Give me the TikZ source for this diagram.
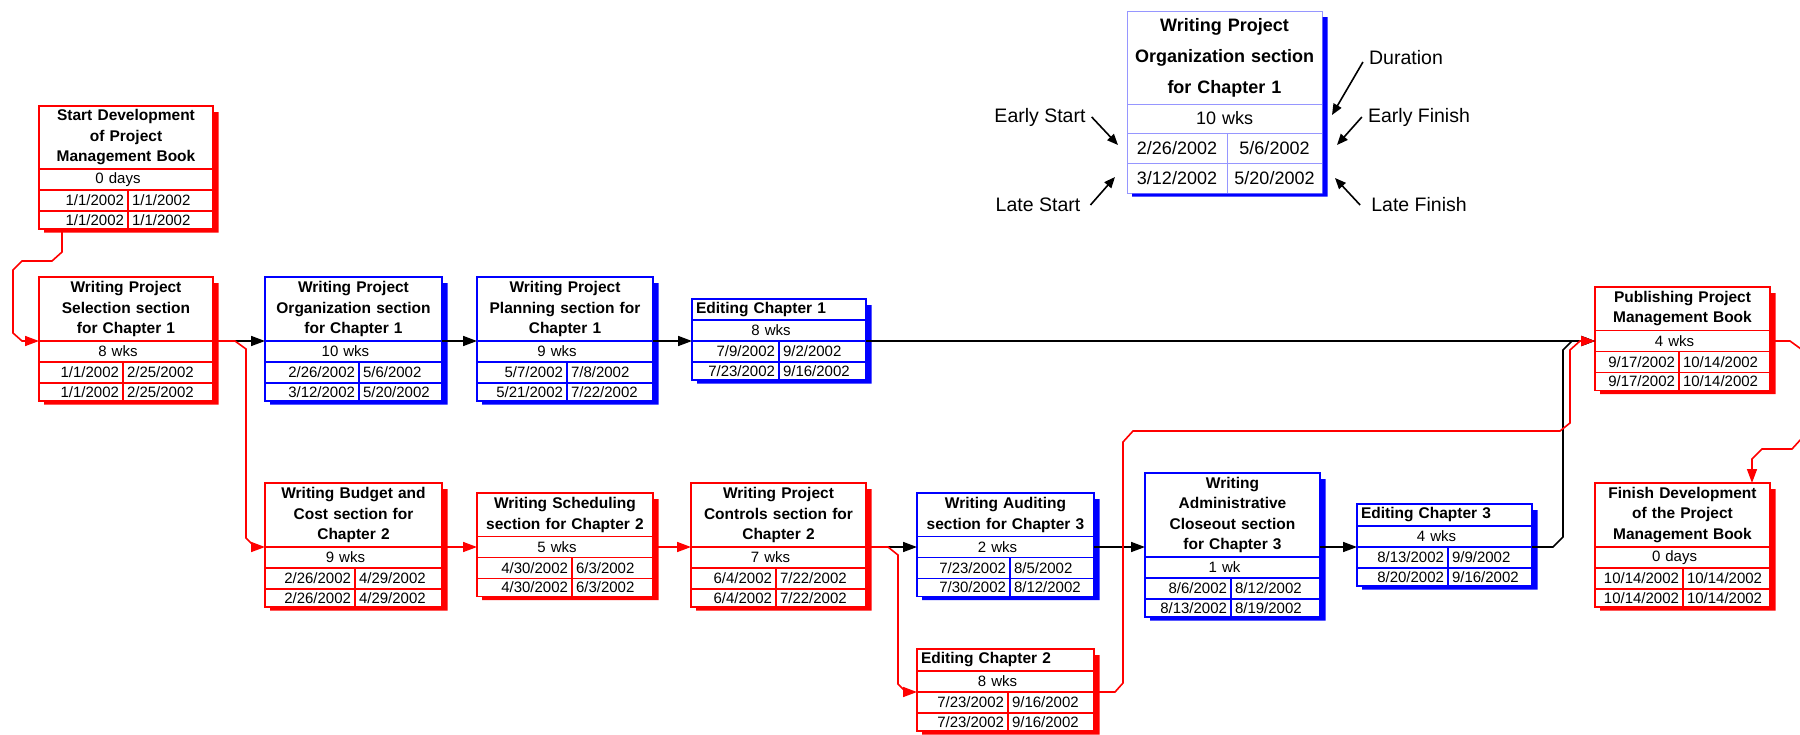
\documentclass[tikz,border=0pt]{standalone}
\usepackage{fontspec}
\setmainfont{Liberation Sans}
\usetikzlibrary{arrows.meta}

\definecolor{keyblue}{RGB}{150,150,255}

\newcommand{\pertbodyfont}{\fontsize{15}{20.5}\selectfont}
\newcommand{\perttitlefont}{\fontsize{15.5}{20.5}\selectfont\bfseries}
\newcommand{\pertkeyfont}{\fontsize{18}{31}\selectfont}
\newcommand{\pertkeytitlefont}{\fontsize{18}{31}\selectfont\bfseries}
\newcommand{\pertlabelfont}{\fontsize{19.5}{24}\selectfont}
\newcommand{\pertleft}[1]{\makebox[\hsize][l]{#1}}

\tikzset{
  cell/.style={fill=white, inner sep=0pt, outer sep=0pt, anchor=north west},
  title row/.style={font=\perttitlefont, align=center},
  dur row/.style={font=\pertbodyfont, align=center, minimum height=21pt,
    execute at end node={\kern16pt}},
  early row/.style={font=\pertbodyfont, minimum height=21pt},
  late row/.style={font=\pertbodyfont, minimum height=18pt},
  left date/.style={align=right},
  right date/.style={align=left},
  redbox/.style={cell, draw=red, line width=1.6pt},
  bluebox/.style={cell, draw=blue, line width=1.6pt},
  keybox/.style={cell, draw=keyblue, line width=0.9pt,
    title row/.style={font=\pertkeytitlefont, align=center},
    dur row/.style={font=\pertkeyfont, align=center, minimum height=29pt},
    early row/.style={font=\pertkeyfont, minimum height=30pt},
    late row/.style={font=\pertkeyfont, minimum height=30pt},
    left date/.style={align=center},
    right date/.style={align=center}},
  redbox shadow/.style={fill=red},
  bluebox shadow/.style={fill=blue},
  keybox shadow/.style={fill=blue},
  redline/.style={draw=red, line width=1.6pt},
  blackline/.style={draw=black, line width=1.6pt},
  linkarrow/.style={-{Triangle[length=14pt,width=10pt]}},
  keylabel/.style={font=\pertlabelfont, inner sep=0pt},
  keyarrow/.style={line width=1.6pt, -{Triangle[length=11pt,width=9pt]}}
}

% two rows of dates: name, style, early start, early finish, late start, late finish
\newcommand{\pertdates}[6]{%
  \node[#2, early row, left date, minimum width=\pertDW pt, text width=\pertLW pt] (#1-es) at (#1-d.south west) {#3};
  \node[#2, early row, right date, minimum width=\pertRMW pt, text width=\pertRW pt] (#1-ef) at (#1-es.north east) {#4};
  \node[#2, late row, left date, minimum width=\pertDW pt, text width=\pertLW pt] (#1-ls) at (#1-es.south west) {#5};
  \node[#2, late row, right date, minimum width=\pertRMW pt, text width=\pertRW pt] (#1-lf) at (#1-ls.north east) {#6};
}

% name, style, top left, width, title height, divider, title, duration, dates
\newcommand{\pertbox}[9]{%
  \pgfmathsetmacro\pertTW{#4-8}%
  \pgfmathsetmacro\pertDW{#6}%
  \pgfmathsetmacro\pertLW{#6-8}%
  \pgfmathsetmacro\pertRMW{#4-#6}%
  \pgfmathsetmacro\pertRW{#4-#6-8}%
  \node[#2, title row, minimum width=#4pt, minimum height=#5pt, text width=\pertTW pt] (#1-t) at (#3) {#7};
  \node[#2, dur row, minimum width=#4pt, text width=\pertTW pt] (#1-d) at (#1-t.south west) {#8};
  \pertdates{#1}{#2}#9
  \fill[#2 shadow] ([shift={(0.5,6)}]#1-t.north east) rectangle ([shift={(5.5,3.5)}]#1-lf.south east)
    ([shift={(5,0.5)}]#1-ls.south west) rectangle ([shift={(5.5,3.5)}]#1-lf.south east);
}

\begin{document}
\begin{tikzpicture}[x=1pt,y=-1pt]
  \useasboundingbox (0,0) rectangle (1800,734);
  \clip (0,0) rectangle (1800,734);

  % Legend box
  \pertbox{key}{keybox}{1127,11}{195}{93}{100}{Writing Project\\ Organization section\\ for Chapter 1}{10 wks}{{2/26/2002}{5/6/2002}{3/12/2002}{5/20/2002}}

  % Legend labels
  \node[keylabel] (es-label) at (1040,117) {Early Start};
  \node[keylabel] (ls-label) at (1038,205) {Late Start};
  \node[keylabel] (dur-label) at (1406,58) {Duration};
  \node[keylabel] (ef-label) at (1419,117) {Early Finish};
  \node[keylabel] (lf-label) at (1419,205) {Late Finish};
  \coordinate (es-tip) at (1118,145);
  \coordinate (ls-tip) at (1115,177);
  \coordinate (dur-tip) at (1332,115);
  \coordinate (ef-tip) at (1337,145);
  \coordinate (lf-tip) at (1335,178);
  \draw[keyarrow] ([xshift=6pt]es-label.east) -- (es-tip);
  \draw[keyarrow] ([xshift=10pt]ls-label.east) -- (ls-tip);
  \draw[keyarrow] ([xshift=-6pt,yshift=-4pt]dur-label.west) -- (dur-tip);
  \draw[keyarrow] ([xshift=-6pt]ef-label.west) -- (ef-tip);
  \draw[keyarrow] ([xshift=-11pt]lf-label.west) -- (lf-tip);

  % Tasks, first row
  \pertbox{start}{redbox}{39,106}{174}{63}{89}{Start Development\\ of Project\\ Management Book}{0 days}{{1/1/2002}{1/1/2002}{1/1/2002}{1/1/2002}}
  \pertbox{sel}{redbox}{39,277}{174}{64}{84}{Writing Project\\ Selection section\\ for Chapter 1}{8 wks}{{1/1/2002}{2/25/2002}{1/1/2002}{2/25/2002}}
  \pertbox{org}{bluebox}{265,277}{177}{64}{94}{Writing Project\\ Organization section\\ for Chapter 1}{10 wks}{{2/26/2002}{5/6/2002}{3/12/2002}{5/20/2002}}
  \pertbox{plan}{bluebox}{477,277}{176}{64}{90}{Writing Project\\ Planning section for\\ Chapter 1}{9 wks}{{5/7/2002}{7/8/2002}{5/21/2002}{7/22/2002}}
  \pertbox{ed1}{bluebox}{692,299}{174}{21}{87}{\pertleft{Editing Chapter 1}}{8 wks}{{7/9/2002}{9/2/2002}{7/23/2002}{9/16/2002}}
  \pertbox{pub}{redbox}{1595,287}{175}{43.5}{84}{Publishing Project\\ Management Book}{4 wks}{{9/17/2002}{10/14/2002}{9/17/2002}{10/14/2002}}

  % Tasks, second row
  \pertbox{bud}{redbox}{265,483}{177}{64}{90}{Writing Budget and\\ Cost section for\\ Chapter 2}{9 wks}{{2/26/2002}{4/29/2002}{2/26/2002}{4/29/2002}}
  \pertbox{sch}{redbox}{477,493}{176}{43.5}{95}{Writing Scheduling\\ section for Chapter 2}{5 wks}{{4/30/2002}{6/3/2002}{4/30/2002}{6/3/2002}}
  \pertbox{ctl}{redbox}{691,483}{175}{64}{85}{Writing Project\\ Controls section for\\ Chapter 2}{7 wks}{{6/4/2002}{7/22/2002}{6/4/2002}{7/22/2002}}
  \pertbox{aud}{bluebox}{917,493}{177}{43.5}{93}{Writing Auditing\\ section for Chapter 3}{2 wks}{{7/23/2002}{8/5/2002}{7/30/2002}{8/12/2002}}
  \pertbox{ed2}{redbox}{917,649}{177}{22}{91}{\pertleft{Editing Chapter 2}}{8 wks}{{7/23/2002}{9/16/2002}{7/23/2002}{9/16/2002}}
  \pertbox{adm}{bluebox}{1145,473}{175}{84}{86}{Writing\\ Administrative\\ Closeout section\\ for Chapter 3}{1 wk}{{8/6/2002}{8/12/2002}{8/13/2002}{8/19/2002}}
  \pertbox{ed3}{bluebox}{1357,504}{175}{22}{91}{\pertleft{Editing Chapter 3}}{4 wks}{{8/13/2002}{9/9/2002}{8/20/2002}{9/16/2002}}
  \pertbox{fin}{redbox}{1595,483}{175}{64}{88}{Finish Development\\ of the Project\\ Management Book}{0 days}{{10/14/2002}{10/14/2002}{10/14/2002}{10/14/2002}}

  % Links off the critical path
  \draw[blackline, linkarrow] (sel-t.south east) -- (org-t.south west);
  \draw[blackline, linkarrow] (org-t.south east) -- (plan-t.south west);
  \draw[blackline, linkarrow] (plan-t.south east) -- (ed1-d.south west);
  \draw[blackline, linkarrow] (ed1-d.south east) -- (ed1-d.south east -| pub-d.west);
  \draw[blackline, linkarrow] (ctl-t.south east) -- (ctl-t.south east -| aud-d.west);
  \draw[blackline, linkarrow] (aud-d.east) -- (aud-d.east -| adm-t.west);
  \draw[blackline, linkarrow] (ed3-d.south west -| adm-t.east) -- (ed3-d.south west);
  \draw[blackline, linkarrow] (ed3-d.south east) -- ++(21,0) -- ++(10,-10) -- ++(0,-187) -- ++(9,-9) -- (pub-d.west);

  % Critical path
  \draw[redline, linkarrow] ([xshift=23pt]start-ls.south west) -- ++(0,23) -- ++(-10,9) -- ++(-30,0) -- ++(-9,9) -- ++(0,63) -- ++(9,8) -- (sel-t.south west);
  \draw[redline, linkarrow] (sel-t.south east) -- ++(22,0) -- ++(11,8) -- ++(0,189) -- ++(9,9) -- (bud-t.south west);
  \draw[redline, linkarrow] (bud-t.south east) -- (bud-t.south east -| sch-d.west);
  \draw[redline, linkarrow] (sch-d.east) -- (sch-d.east -| ctl-t.west);
  \draw[redline, linkarrow] (ctl-t.south east) -- ++(22,0) -- ++(10,8) -- ++(0,129) -- ++(8,8) -- (ed2-d.south west);
  \draw[redline, linkarrow] (ed2-d.south east) -- ++(21,0) -- ++(8,-9) -- ++(0,-241) -- ++(10,-11) -- ++(427,0) -- ++(10,-8) -- ++(0,-73) -- ++(10,-9) -- (pub-d.west);
  \draw[redline, linkarrow] (pub-d.east) -- ++(20,0) -- ++(22,16) -- ++(0,70) -- ++(-20,22) -- ++(-30,0) -- ++(-10,10) -- ([xshift=157pt]fin-t.north west);
\end{tikzpicture}
\end{document}
